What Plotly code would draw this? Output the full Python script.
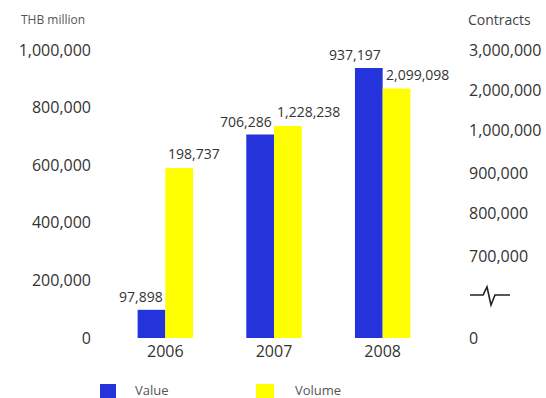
import plotly.graph_objects as go

years = ["2006", "2007", "2008"]
value_thb = [97898, 706286, 937197]
volume_contracts = [198737, 1228238, 2099098]
# bar heights of the volume series as drawn on the chart (left-axis units, broken right axis)
volume_bar_height = [590000, 736000, 866000]

left_tick_vals = [0, 200000, 400000, 600000, 800000, 1000000]
left_tick_text = ["0", "200,000", "400,000", "600,000", "800,000", "1,000,000"]
right_tick_text = ["0", "700,000", "800,000", "900,000", "1,000,000", "2,000,000", "3,000,000"]
right_tick_pos = [0, 285000, 431000, 573000, 720000, 861000, 1000000]
series_names = ["Value", "Volume"]

BLUE = "#2433DA"
YELLOW = "#FFFF00"
FONT = "Open Sans"
TXT = "#333333"

W, H = 546, 398
L, R, T, B = 111, 109, 50, 60
pw, ph = W - L - R, H - T - B


def px(xp):
    return (xp - L) / pw


def py(yp):
    return (H - B - yp) / ph


fig = go.Figure()
fig.add_trace(go.Bar(x=years, y=value_thb, name=series_names[0],
                     marker=dict(color=BLUE, line=dict(width=0)), showlegend=False))
fig.add_trace(go.Bar(x=years, y=volume_bar_height, name=series_names[1],
                     marker=dict(color=YELLOW, line=dict(width=0)), showlegend=False))
fig.add_trace(go.Scatter(x=[years[0]], y=[0], yaxis="y2", mode="markers", marker=dict(opacity=0),
                         showlegend=False, hoverinfo="skip"))

ann = []
for i, v in enumerate(value_thb):
    ann.append(dict(x=i, y=v, xref="x", yref="y", text=f"{v:,}", showarrow=False,
                    xanchor="right", yanchor="bottom", xshift=0, yshift=2,
                    font=dict(family=FONT, size=14, color=TXT)))
for i, (hgt, v) in enumerate(zip(volume_bar_height, volume_contracts)):
    ann.append(dict(x=i, y=hgt, xref="x", yref="y", text=f"{v:,}", showarrow=False,
                    xanchor="left", yanchor="bottom", xshift=1, yshift=3,
                    font=dict(family=FONT, size=14, color=TXT)))
ann.append(dict(x=px(19), y=py(20), xref="paper", yref="paper", text="THB million",
                showarrow=False, xanchor="left", yanchor="middle",
                font=dict(family=FONT, size=12, color="#555555")))
ann.append(dict(x=px(466), y=py(20), xref="paper", yref="paper", text="Contracts",
                showarrow=False, xanchor="left", yanchor="middle",
                font=dict(family=FONT, size=14, color="#444444")))

pts = [(470, 295), (483, 295), (487, 287), (491, 305), (495, 295), (510, 295)]
path = "M " + " L ".join(f"{px(a):.4f},{py(b):.4f}" for a, b in pts)
shapes = [dict(type="path", path=path, xref="paper", yref="paper",
               line=dict(color="#222222", width=1.6))]

# legend (drawn by hand to match the reference spacing)
for (x0, x1, tx), col, name in zip([(100, 116, 133), (256, 274, 293)], [BLUE, YELLOW], series_names):
    shapes.append(dict(type="rect", xref="paper", yref="paper",
                       x0=px(x0), x1=px(x1), y0=py(400), y1=py(384),
                       fillcolor=col, line=dict(width=0)))
    ann.append(dict(x=px(tx), y=py(390), xref="paper", yref="paper", text=name,
                    showarrow=False, xanchor="left", yanchor="middle",
                    font=dict(family=FONT, size=13, color="#555555")))

fig.update_layout(
    width=W, height=H,
    margin=dict(l=L, r=R, t=T, b=B, autoexpand=False),
    paper_bgcolor="white", plot_bgcolor="white",
    barmode="group", bargap=0.49, bargroupgap=0,
    font=dict(family=FONT, color=TXT),
    showlegend=False,
    xaxis=dict(type="category", range=[-0.5, 2.5], showgrid=False, zeroline=False, showline=False, ticks="",
               tickfont=dict(family=FONT, size=16, color=TXT), ticklabelstandoff=2),
    yaxis=dict(range=[0, 1000000], tickvals=left_tick_vals, ticktext=left_tick_text,
               showgrid=False, zeroline=False, showline=False, ticks="",
               tickfont=dict(family=FONT, size=16, color=TXT), ticklabelstandoff=19),
    yaxis2=dict(range=[0, 1000000], overlaying="y", side="right",
                tickvals=right_tick_pos, ticktext=right_tick_text,
                showgrid=False, zeroline=False, showline=False, ticks="",
                tickfont=dict(family=FONT, size=16, color=TXT), ticklabelstandoff=31),
    annotations=ann, shapes=shapes,
)

fig.write_html("out.html")
